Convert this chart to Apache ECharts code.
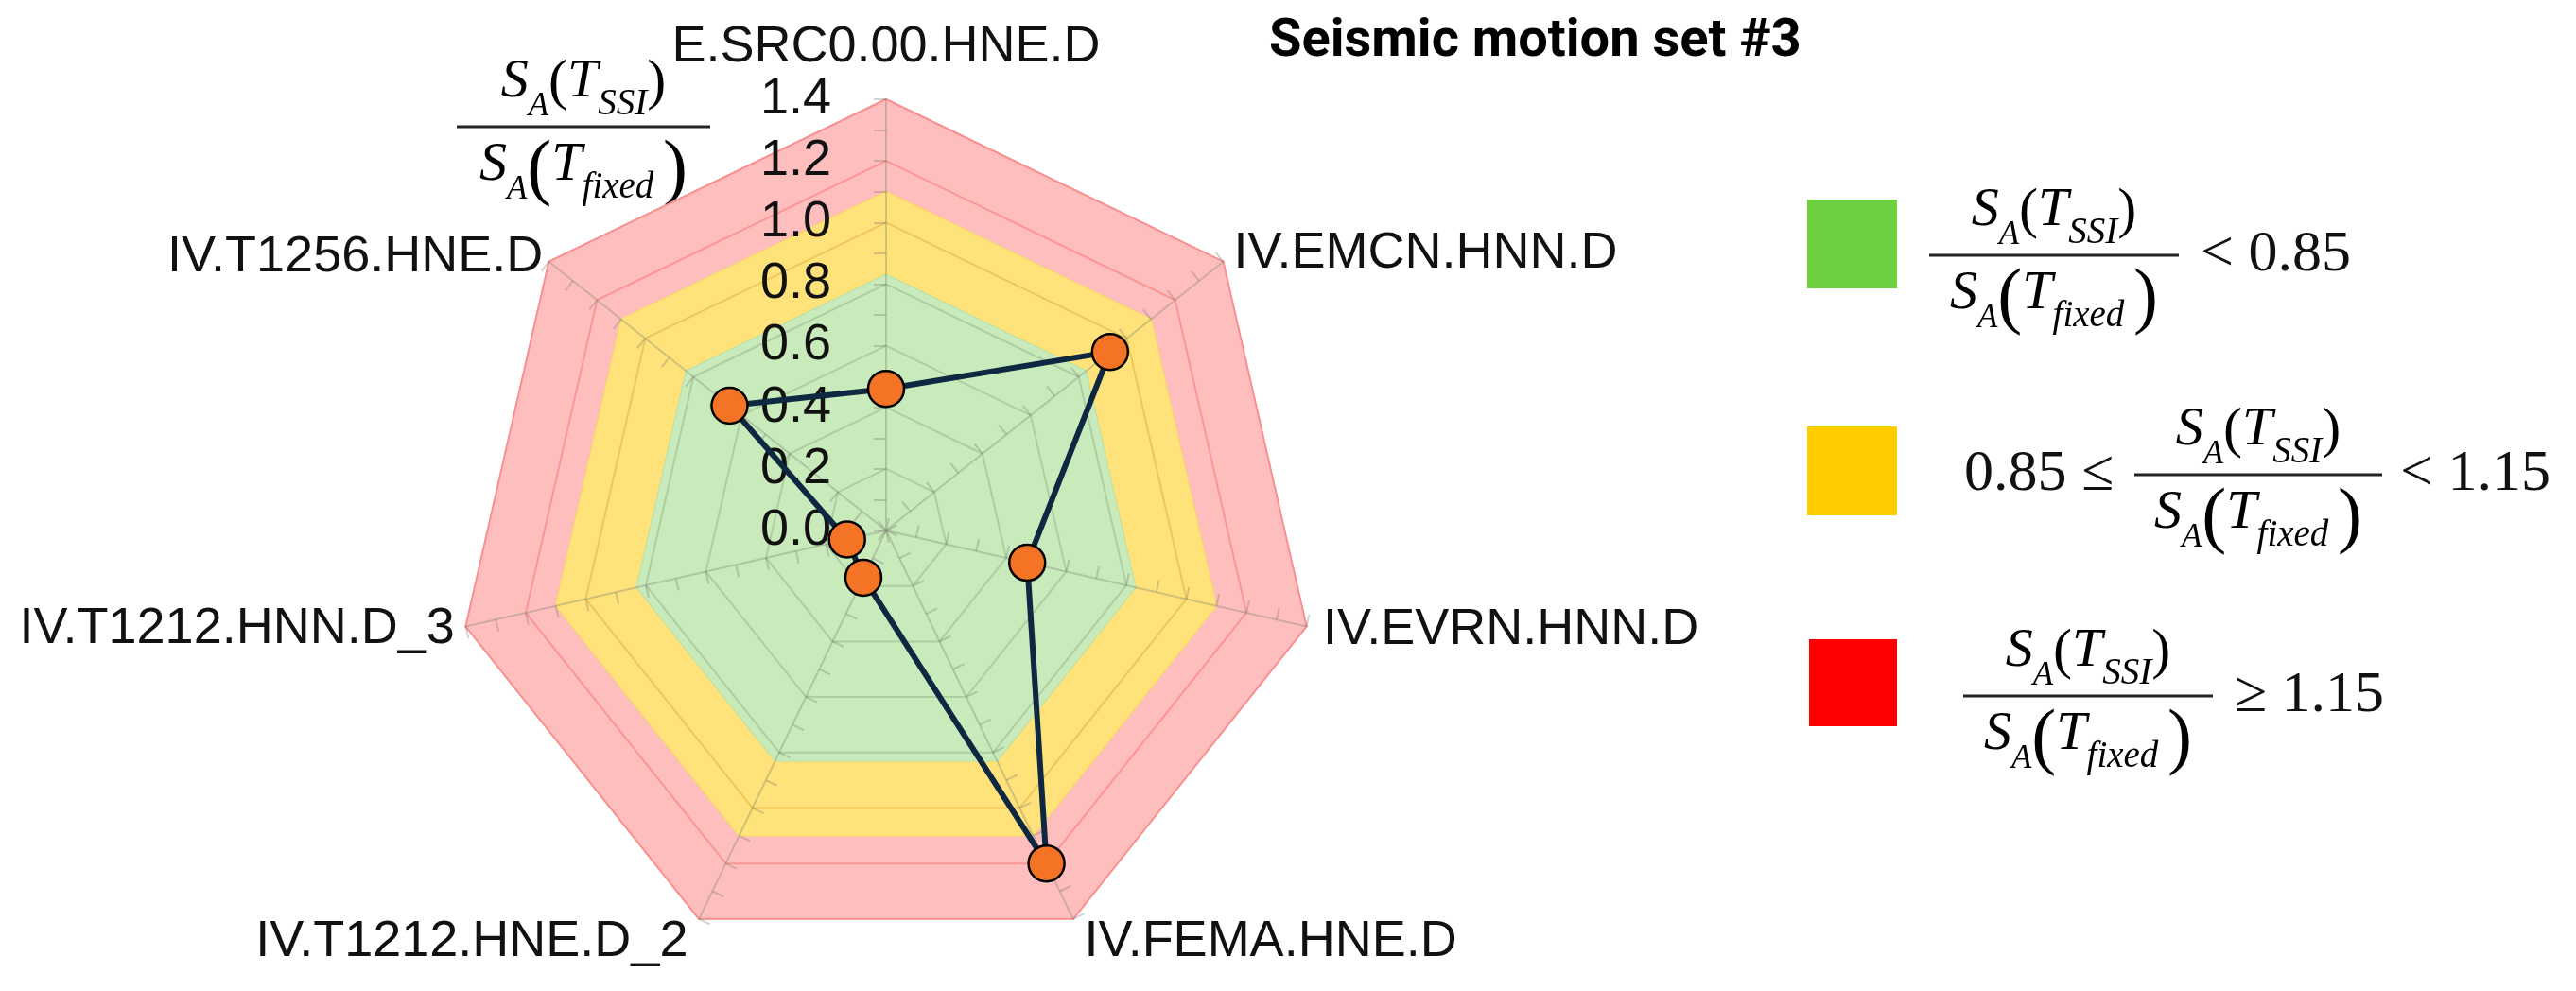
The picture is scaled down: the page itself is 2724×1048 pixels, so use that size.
<!DOCTYPE html>
<html><head><meta charset="utf-8">
<script src="https://cdn.jsdelivr.net/npm/echarts@6/dist/echarts.min.js"></script>
<style>html,body{margin:0;padding:0;background:#fff}#c{width:2724px;height:1048px}</style>
</head><body><div id="c"></div>
<script>
// Indicators listed counter-clockwise from the top (ECharts radar runs counter-clockwise)
const categories = ['E.SRC0.00.HNE.D', 'IV.T1256.HNE.D', 'IV.T1212.HNN.D_3', 'IV.T1212.HNE.D_2', 'IV.FEMA.HNE.D', 'IV.EVRN.HNN.D', 'IV.EMCN.HNN.D'];
const ratioValues = [0.46, 0.65, 0.13, 0.17, 1.20, 0.47, 0.93];
const bandLimits = [1.40, 1.10, 0.83];          // outer edges of red, yellow, green zones
const axisMax = 1.4;
const axisTickLabels = ['0.0', '0.2', '0.4', '0.6', '0.8', '1.0', '1.2', '1.4'];
const titleText = 'Seismic motion set #3';
const legendTexts = ['< 0.85', '0.85 ≤', '< 1.15', '≥ 1.15'];

const chart = echarts.init(document.getElementById('c'), null, {renderer: 'canvas', width: 2724, height: 1048});

const sans = 'Liberation Sans';
const serif = 'Liberation Serif';
const nameGaps = [8, 8, 12, 27, 27, 18, 14];
const bandFill = ['#FFBEBE', '#FFE27A', '#C9EBBB'];
const bandEdge = ['#F9AAAA', '#F7D46A', '#B9E0A6'];

// split-line colours per ring (0.0 .. 1.4 by 0.1); odd rings invisible
const ringColors = [];
for (let i = 0; i <= 14; i++) {
  if (i % 2 === 1 || i === 0) ringColors.push('rgba(0,0,0,0)');
  else if (i <= 8) ringColors.push('rgba(110,140,100,0.30)');
  else if (i === 10) ringColors.push('rgba(215,160,40,0.40)');
  else ringColors.push('rgba(245,90,90,0.40)');
}

const radarBase = {
  center: [937, 561], radius: 456, startAngle: 90, shape: 'polygon', splitNumber: 14
};

const tickFmt = function (v) {
  const k = Math.round(v * 10);
  return k % 2 ? '' : axisTickLabels[k / 2];
};

// ---------- formula helpers ----------
const R = {
  m: {fontFamily: serif, fontStyle: 'italic', fontSize: 58, lineHeight: 72, verticalAlign: 'top', color: '#111'},
  a: {fontFamily: serif, fontStyle: 'italic', fontSize: 35, lineHeight: 72, verticalAlign: 'bottom', color: '#111'},
  s: {fontFamily: serif, fontStyle: 'italic', fontSize: 39, lineHeight: 72, verticalAlign: 'bottom', color: '#111'},
  p: {fontFamily: serif, fontSize: 60, lineHeight: 72, verticalAlign: 'top', color: '#111'},
  P: {fontFamily: serif, fontSize: 78, lineHeight: 72, verticalAlign: 'middle', color: '#111'}
};
const numText = '{m|S}{a|A}{p|(}{m|T}{s|SSI}{p|)}';
const denText = '{m|S}{a|A}{P|(}{m|T}{s|fixed }{P|)}';

function fraction(cx, barY, halfW) {
  return [
    {type: 'text', x: cx, y: barY - 4, style: {text: numText, rich: R, align: 'center', verticalAlign: 'bottom'}},
    {type: 'line', shape: {x1: cx - halfW, y1: barY, x2: cx + halfW, y2: barY}, style: {stroke: '#222', lineWidth: 3}},
    {type: 'text', x: cx, y: barY + 12, style: {text: denText, rich: R, align: 'center', verticalAlign: 'top'}}
  ];
}
function plain(x, y, text, align) {
  return {type: 'text', x: x, y: y, style: {text: text, fontFamily: serif, fontSize: 62, fill: '#111', align: align, verticalAlign: 'middle'}};
}

const graphics = [].concat(
  fraction(617, 134, 134),
  // legend
  [{type: 'rect', shape: {x: 1911, y: 211, width: 95, height: 94}, style: {fill: '#6DD13F'}}],
  fraction(2172, 270, 132),
  [plain(2327, 270, legendTexts[0], 'left')],
  [{type: 'rect', shape: {x: 1911, y: 451, width: 95, height: 94}, style: {fill: '#FFCC00'}}],
  [plain(2235, 502, legendTexts[1], 'right')],
  fraction(2388, 502, 131),
  [plain(2538, 502, legendTexts[2], 'left')],
  [{type: 'rect', shape: {x: 1913, y: 676, width: 93, height: 92}, style: {fill: '#FF0000'}}],
  fraction(2208, 736, 132),
  [plain(2363, 736, legendTexts[3], 'left')]
);

const option = {
  backgroundColor: '#ffffff',
  animation: false,
  title: {
    text: titleText, left: 1337, top: 12,
    textStyle: {fontFamily: 'Roboto', fontWeight: 'bold', fontSize: 56, color: '#000'}
  },
  radar: [
    Object.assign({}, radarBase, {
      z: 2,
      indicator: categories.map(function (n, i) {
        const ind = {name: n, min: 0, max: axisMax, nameGap: nameGaps[i]};
        if (i === 0) ind.axisLabel = {show: true};
        return ind;
      }),
      axisName: {color: '#111', fontSize: 54, fontFamily: sans, padding: [0, 0, 20, 0]},
      axisLine: {show: true, lineStyle: {color: 'rgba(120,130,110,0.35)', width: 2}},
      axisTick: {show: true, length: 13, lineStyle: {color: 'rgba(110,110,110,0.30)', width: 2}},
      axisLabel: {show: false, formatter: tickFmt, fontSize: 54, fontFamily: sans, color: '#111', margin: 58},
      splitLine: {show: true, lineStyle: {color: ringColors, width: 2}},
      splitArea: {show: false}
    }),
    Object.assign({}, radarBase, {
      z: 2,
      indicator: categories.map(function () { return {name: '', min: 0, max: axisMax}; }),
      axisName: {show: false},
      axisLine: {show: false},
      axisTick: {show: true, inside: true, length: 13, lineStyle: {color: 'rgba(110,110,110,0.30)', width: 2}},
      axisLabel: {show: false},
      splitLine: {show: false},
      splitArea: {show: false}
    })
  ],
  series: [
    {
      type: 'radar', radarIndex: 0, z: 1, silent: true, symbol: 'none',
      data: bandLimits.map(function (lim, k) {
        return {
          value: categories.map(function () { return lim; }),
          areaStyle: {color: bandFill[k], opacity: 1},
          lineStyle: {color: bandEdge[k], width: 2}
        };
      })
    },
    {
      type: 'radar', radarIndex: 0, z: 3, symbol: 'circle', symbolSize: 38,
      itemStyle: {color: '#F47324', borderColor: '#000', borderWidth: 2.5},
      lineStyle: {color: '#0E2841', width: 6},
      data: [{value: ratioValues, name: 'SA ratio'}]
    }
  ],
  graphic: graphics
};
chart.setOption(option);
</script>
</body></html>
